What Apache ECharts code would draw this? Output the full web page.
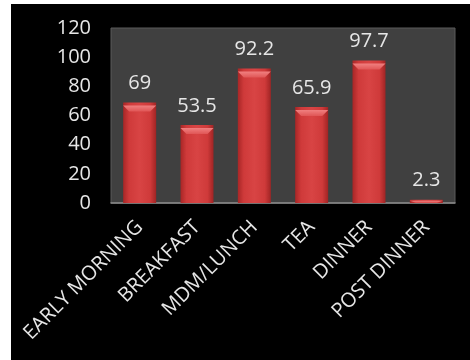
<!DOCTYPE html>
<html>
<head>
<meta charset="utf-8">
<script src="https://cdn.jsdelivr.net/npm/echarts@6/dist/echarts.min.js"></script>
<style>
  html, body { margin: 0; padding: 0; background: #ffffff; width: 470px; height: 360px; overflow: hidden; }
  #chart { position: absolute; left: 11px; top: 4px; width: 459px; height: 356px; background: #000000; }
</style>
</head>
<body>
<div id="chart"></div>
<script>
// Meal-time categories and their values
const categories = ['EARLY MORNING', 'BREAKFAST', 'MDM/LUNCH', 'TEA', 'DINNER', 'POST DINNER'];
const values = [69, 53.5, 92.2, 65.9, 97.7, 2.3];
const yTicks = [0, 20, 40, 60, 80, 100, 120];

const textColor = '#e6e6e6';
const fontFamily = '"Open Sans", Lato, sans-serif';

const chart = echarts.init(document.getElementById('chart'), null, { renderer: 'canvas' });

const barFill = new echarts.graphic.LinearGradient(0, 0, 1, 0, [
  { offset: 0, color: '#a82626' },
  { offset: 0.18, color: '#cf3a3a' },
  { offset: 0.5, color: '#d84444' },
  { offset: 0.82, color: '#cf3a3a' },
  { offset: 1, color: '#a02424' }
]);

const bevelFill = new echarts.graphic.LinearGradient(0, 0, 0, 1, [
  { offset: 0, color: '#f08080' },
  { offset: 1, color: '#e05656' }
]);

chart.setOption({
  animation: false,
  backgroundColor: '#000000',
  grid: {
    show: true,
    left: 100,
    top: 24,
    right: 15,
    bottom: 157,
    backgroundColor: '#404040',
    borderColor: '#5a5a5a',
    borderWidth: 1
  },
  xAxis: {
    type: 'category',
    data: categories,
    axisLine: { show: true, lineStyle: { color: '#8c8c8c', width: 1.5 } },
    axisTick: { show: false },
    axisLabel: {
      rotate: 45,
      margin: 21,
      color: textColor,
      fontSize: 20,
      fontFamily: fontFamily,
      interval: 0
    }
  },
  yAxis: {
    type: 'value',
    min: yTicks[0],
    max: yTicks[yTicks.length - 1],
    interval: yTicks[1] - yTicks[0],
    axisLine: { show: false },
    axisTick: { show: false },
    splitLine: { show: false },
    axisLabel: {
      margin: 20,
      color: textColor,
      fontSize: 20,
      fontFamily: fontFamily
    }
  },
  series: [
    {
      type: 'bar',
      data: values,
      barWidth: 33,
      itemStyle: { color: barFill },
      label: {
        show: true,
        position: 'top',
        distance: 9,
        color: textColor,
        fontSize: 20,
        fontFamily: fontFamily
      },
      z: 2
    },
    {
      // bevelled top face of each bar
      type: 'pictorialBar',
      data: values,
      symbol: 'path://M0,0 L22,0 L18,4 L4,4 Z',
      symbolPosition: 'end',
      symbolSize: function (v) { return v < 5 ? [33, 2] : [33, 6]; },
      symbolOffset: [0, '50%'],
      itemStyle: { color: bevelFill },
      silent: true,
      z: 3
    }
  ]
});
</script>
</body>
</html>
